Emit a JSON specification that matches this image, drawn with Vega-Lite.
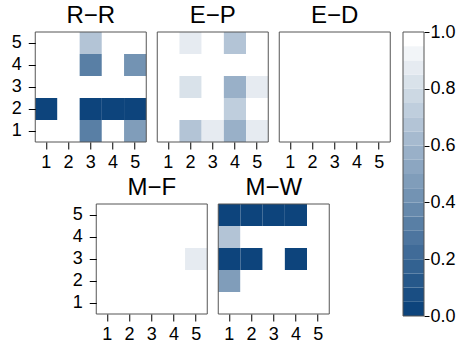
{
  "$schema": "https://vega.github.io/schema/vega-lite/v6.json",
  "padding": {"left": 11, "top": -5, "right": 2, "bottom": 2},
  "datasets": {
    "cells": [
      {"p":"R-R","c":1,"r":5,"v":1},{"p":"R-R","c":2,"r":5,"v":1},{"p":"R-R","c":3,"r":5,"v":0.67},{"p":"R-R","c":4,"r":5,"v":1},{"p":"R-R","c":5,"r":5,"v":1},
      {"p":"R-R","c":1,"r":4,"v":1},{"p":"R-R","c":2,"r":4,"v":1},{"p":"R-R","c":3,"r":4,"v":0.32},{"p":"R-R","c":4,"r":4,"v":1},{"p":"R-R","c":5,"r":4,"v":0.42},
      {"p":"R-R","c":1,"r":3,"v":1},{"p":"R-R","c":2,"r":3,"v":1},{"p":"R-R","c":3,"r":3,"v":1},{"p":"R-R","c":4,"r":3,"v":1},{"p":"R-R","c":5,"r":3,"v":1},
      {"p":"R-R","c":1,"r":2,"v":0.02},{"p":"R-R","c":2,"r":2,"v":1},{"p":"R-R","c":3,"r":2,"v":0.02},{"p":"R-R","c":4,"r":2,"v":0.02},{"p":"R-R","c":5,"r":2,"v":0.02},
      {"p":"R-R","c":1,"r":1,"v":1},{"p":"R-R","c":2,"r":1,"v":1},{"p":"R-R","c":3,"r":1,"v":0.32},{"p":"R-R","c":4,"r":1,"v":1},{"p":"R-R","c":5,"r":1,"v":0.47},
      {"p":"E-P","c":1,"r":5,"v":1},{"p":"E-P","c":2,"r":5,"v":0.87},{"p":"E-P","c":3,"r":5,"v":1},{"p":"E-P","c":4,"r":5,"v":0.67},{"p":"E-P","c":5,"r":5,"v":1},
      {"p":"E-P","c":1,"r":4,"v":1},{"p":"E-P","c":2,"r":4,"v":1},{"p":"E-P","c":3,"r":4,"v":1},{"p":"E-P","c":4,"r":4,"v":1},{"p":"E-P","c":5,"r":4,"v":1},
      {"p":"E-P","c":1,"r":3,"v":1},{"p":"E-P","c":2,"r":3,"v":0.82},{"p":"E-P","c":3,"r":3,"v":1},{"p":"E-P","c":4,"r":3,"v":0.57},{"p":"E-P","c":5,"r":3,"v":0.87},
      {"p":"E-P","c":1,"r":2,"v":1},{"p":"E-P","c":2,"r":2,"v":1},{"p":"E-P","c":3,"r":2,"v":1},{"p":"E-P","c":4,"r":2,"v":0.72},{"p":"E-P","c":5,"r":2,"v":1},
      {"p":"E-P","c":1,"r":1,"v":1},{"p":"E-P","c":2,"r":1,"v":0.65},{"p":"E-P","c":3,"r":1,"v":0.87},{"p":"E-P","c":4,"r":1,"v":0.57},{"p":"E-P","c":5,"r":1,"v":0.87},
      {"p":"E-D","c":1,"r":5,"v":1},{"p":"E-D","c":2,"r":5,"v":1},{"p":"E-D","c":3,"r":5,"v":1},{"p":"E-D","c":4,"r":5,"v":1},{"p":"E-D","c":5,"r":5,"v":1},
      {"p":"E-D","c":1,"r":4,"v":1},{"p":"E-D","c":2,"r":4,"v":1},{"p":"E-D","c":3,"r":4,"v":1},{"p":"E-D","c":4,"r":4,"v":1},{"p":"E-D","c":5,"r":4,"v":1},
      {"p":"E-D","c":1,"r":3,"v":1},{"p":"E-D","c":2,"r":3,"v":1},{"p":"E-D","c":3,"r":3,"v":1},{"p":"E-D","c":4,"r":3,"v":1},{"p":"E-D","c":5,"r":3,"v":1},
      {"p":"E-D","c":1,"r":2,"v":1},{"p":"E-D","c":2,"r":2,"v":1},{"p":"E-D","c":3,"r":2,"v":1},{"p":"E-D","c":4,"r":2,"v":1},{"p":"E-D","c":5,"r":2,"v":1},
      {"p":"E-D","c":1,"r":1,"v":1},{"p":"E-D","c":2,"r":1,"v":1},{"p":"E-D","c":3,"r":1,"v":1},{"p":"E-D","c":4,"r":1,"v":1},{"p":"E-D","c":5,"r":1,"v":1},
      {"p":"M-F","c":1,"r":5,"v":1},{"p":"M-F","c":2,"r":5,"v":1},{"p":"M-F","c":3,"r":5,"v":1},{"p":"M-F","c":4,"r":5,"v":1},{"p":"M-F","c":5,"r":5,"v":1},
      {"p":"M-F","c":1,"r":4,"v":1},{"p":"M-F","c":2,"r":4,"v":1},{"p":"M-F","c":3,"r":4,"v":1},{"p":"M-F","c":4,"r":4,"v":1},{"p":"M-F","c":5,"r":4,"v":1},
      {"p":"M-F","c":1,"r":3,"v":1},{"p":"M-F","c":2,"r":3,"v":1},{"p":"M-F","c":3,"r":3,"v":1},{"p":"M-F","c":4,"r":3,"v":1},{"p":"M-F","c":5,"r":3,"v":0.87},
      {"p":"M-F","c":1,"r":2,"v":1},{"p":"M-F","c":2,"r":2,"v":1},{"p":"M-F","c":3,"r":2,"v":1},{"p":"M-F","c":4,"r":2,"v":1},{"p":"M-F","c":5,"r":2,"v":1},
      {"p":"M-F","c":1,"r":1,"v":1},{"p":"M-F","c":2,"r":1,"v":1},{"p":"M-F","c":3,"r":1,"v":1},{"p":"M-F","c":4,"r":1,"v":1},{"p":"M-F","c":5,"r":1,"v":1},
      {"p":"M-W","c":1,"r":5,"v":0.02},{"p":"M-W","c":2,"r":5,"v":0.02},{"p":"M-W","c":3,"r":5,"v":0.02},{"p":"M-W","c":4,"r":5,"v":0.02},{"p":"M-W","c":5,"r":5,"v":1},
      {"p":"M-W","c":1,"r":4,"v":0.67},{"p":"M-W","c":2,"r":4,"v":1},{"p":"M-W","c":3,"r":4,"v":1},{"p":"M-W","c":4,"r":4,"v":1},{"p":"M-W","c":5,"r":4,"v":1},
      {"p":"M-W","c":1,"r":3,"v":0.02},{"p":"M-W","c":2,"r":3,"v":0.02},{"p":"M-W","c":3,"r":3,"v":1},{"p":"M-W","c":4,"r":3,"v":0.02},{"p":"M-W","c":5,"r":3,"v":1},
      {"p":"M-W","c":1,"r":2,"v":0.47},{"p":"M-W","c":2,"r":2,"v":1},{"p":"M-W","c":3,"r":2,"v":1},{"p":"M-W","c":4,"r":2,"v":1},{"p":"M-W","c":5,"r":2,"v":1},
      {"p":"M-W","c":1,"r":1,"v":1},{"p":"M-W","c":2,"r":1,"v":1},{"p":"M-W","c":3,"r":1,"v":1},{"p":"M-W","c":4,"r":1,"v":1},{"p":"M-W","c":5,"r":1,"v":1}
    ],
    "legend": [
      {"lo":0.00,"hi":0.05,"v":0.025},{"lo":0.05,"hi":0.10,"v":0.075},{"lo":0.10,"hi":0.15,"v":0.125},{"lo":0.15,"hi":0.20,"v":0.175},
      {"lo":0.20,"hi":0.25,"v":0.225},{"lo":0.25,"hi":0.30,"v":0.275},{"lo":0.30,"hi":0.35,"v":0.325},{"lo":0.35,"hi":0.40,"v":0.375},
      {"lo":0.40,"hi":0.45,"v":0.425},{"lo":0.45,"hi":0.50,"v":0.475},{"lo":0.50,"hi":0.55,"v":0.525},{"lo":0.55,"hi":0.60,"v":0.575},
      {"lo":0.60,"hi":0.65,"v":0.625},{"lo":0.65,"hi":0.70,"v":0.675},{"lo":0.70,"hi":0.75,"v":0.725},{"lo":0.75,"hi":0.80,"v":0.775},
      {"lo":0.80,"hi":0.85,"v":0.825},{"lo":0.85,"hi":0.90,"v":0.875},{"lo":0.90,"hi":0.95,"v":0.925},{"lo":0.95,"hi":1.00,"v":0.975}
    ],
    "frame": [{"f": 1}]
  },
  "hconcat": [
    {
      "vconcat": [
        {
          "hconcat": [
            {
              "title": "R\u2212R",
              "width": 111, "height": 110,
              "layer": [
                {
                  "data": {"name": "cells"},
                  "transform": [{"filter": "datum.p === 'R-R'"}],
                  "mark": "rect",
                  "encoding": {
                    "x": {"field": "c", "type": "ordinal", "scale": {"domain": [1,2,3,4,5], "paddingInner": 0, "paddingOuter": 0}, "axis": {"title": null, "labelPadding": 4}},
                    "y": {"field": "r", "type": "ordinal", "scale": {"domain": [5,4,3,2,1], "paddingInner": 0, "paddingOuter": 0}, "axis": {"title": null, "labelPadding": 7}},
                    "color": {"field": "v", "type": "quantitative", "legend": null, "scale": {"type": "quantize", "domain": [0,1], "nice": false, "range": ["#0D447C","#1A4E83","#26588A","#336291","#406B98","#4D759F","#597FA5","#6689AC","#7393B3","#809DBA","#8CA6C1","#99B0C8","#A6BACF","#B3C4D6","#BFCEDD","#CCD8E3","#D9E2EA","#E6EBF1","#F2F5F8","#FFFFFF"]}}
                  }
                },
                {"data": {"name": "frame"}, "mark": {"type": "rect", "fillOpacity": 0, "stroke": "#555555", "strokeWidth": 1}, "encoding": {}}
              ]
            },
            {
              "title": "E\u2212P",
              "width": 111, "height": 110,
              "layer": [
                {
                  "data": {"name": "cells"},
                  "transform": [{"filter": "datum.p === 'E-P'"}],
                  "mark": "rect",
                  "encoding": {
                    "x": {"field": "c", "type": "ordinal", "scale": {"domain": [1,2,3,4,5], "paddingInner": 0, "paddingOuter": 0}, "axis": {"title": null, "labelPadding": 4}},
                    "y": {"field": "r", "type": "ordinal", "scale": {"domain": [5,4,3,2,1], "paddingInner": 0, "paddingOuter": 0}, "axis": null},
                    "color": {"field": "v", "type": "quantitative", "legend": null, "scale": {"type": "quantize", "domain": [0,1], "nice": false, "range": ["#0D447C","#1A4E83","#26588A","#336291","#406B98","#4D759F","#597FA5","#6689AC","#7393B3","#809DBA","#8CA6C1","#99B0C8","#A6BACF","#B3C4D6","#BFCEDD","#CCD8E3","#D9E2EA","#E6EBF1","#F2F5F8","#FFFFFF"]}}
                  }
                },
                {"data": {"name": "frame"}, "mark": {"type": "rect", "fillOpacity": 0, "stroke": "#555555", "strokeWidth": 1}, "encoding": {}}
              ]
            },
            {
              "title": "E\u2212D",
              "width": 111, "height": 110,
              "layer": [
                {
                  "data": {"name": "cells"},
                  "transform": [{"filter": "datum.p === 'E-D'"}],
                  "mark": "rect",
                  "encoding": {
                    "x": {"field": "c", "type": "ordinal", "scale": {"domain": [1,2,3,4,5], "paddingInner": 0, "paddingOuter": 0}, "axis": {"title": null, "labelPadding": 4}},
                    "y": {"field": "r", "type": "ordinal", "scale": {"domain": [5,4,3,2,1], "paddingInner": 0, "paddingOuter": 0}, "axis": null},
                    "color": {"field": "v", "type": "quantitative", "legend": null, "scale": {"type": "quantize", "domain": [0,1], "nice": false, "range": ["#0D447C","#1A4E83","#26588A","#336291","#406B98","#4D759F","#597FA5","#6689AC","#7393B3","#809DBA","#8CA6C1","#99B0C8","#A6BACF","#B3C4D6","#BFCEDD","#CCD8E3","#D9E2EA","#E6EBF1","#F2F5F8","#FFFFFF"]}}
                  }
                },
                {"data": {"name": "frame"}, "mark": {"type": "rect", "fillOpacity": 0, "stroke": "#555555", "strokeWidth": 1}, "encoding": {}}
              ]
            }
          ]
        },
        {
          "hconcat": [
            {
              "title": "M\u2212F",
              "width": 111, "height": 110,
              "layer": [
                {
                  "data": {"name": "cells"},
                  "transform": [{"filter": "datum.p === 'M-F'"}],
                  "mark": "rect",
                  "encoding": {
                    "x": {"field": "c", "type": "ordinal", "scale": {"domain": [1,2,3,4,5], "paddingInner": 0, "paddingOuter": 0}, "axis": {"title": null, "labelPadding": 4}},
                    "y": {"field": "r", "type": "ordinal", "scale": {"domain": [5,4,3,2,1], "paddingInner": 0, "paddingOuter": 0}, "axis": {"title": null, "labelPadding": 7}},
                    "color": {"field": "v", "type": "quantitative", "legend": null, "scale": {"type": "quantize", "domain": [0,1], "nice": false, "range": ["#0D447C","#1A4E83","#26588A","#336291","#406B98","#4D759F","#597FA5","#6689AC","#7393B3","#809DBA","#8CA6C1","#99B0C8","#A6BACF","#B3C4D6","#BFCEDD","#CCD8E3","#D9E2EA","#E6EBF1","#F2F5F8","#FFFFFF"]}}
                  }
                },
                {"data": {"name": "frame"}, "mark": {"type": "rect", "fillOpacity": 0, "stroke": "#555555", "strokeWidth": 1}, "encoding": {}}
              ]
            },
            {
              "title": "M\u2212W",
              "width": 111, "height": 110,
              "layer": [
                {
                  "data": {"name": "cells"},
                  "transform": [{"filter": "datum.p === 'M-W'"}],
                  "mark": "rect",
                  "encoding": {
                    "x": {"field": "c", "type": "ordinal", "scale": {"domain": [1,2,3,4,5], "paddingInner": 0, "paddingOuter": 0}, "axis": {"title": null, "labelPadding": 4}},
                    "y": {"field": "r", "type": "ordinal", "scale": {"domain": [5,4,3,2,1], "paddingInner": 0, "paddingOuter": 0}, "axis": null},
                    "color": {"field": "v", "type": "quantitative", "legend": null, "scale": {"type": "quantize", "domain": [0,1], "nice": false, "range": ["#0D447C","#1A4E83","#26588A","#336291","#406B98","#4D759F","#597FA5","#6689AC","#7393B3","#809DBA","#8CA6C1","#99B0C8","#A6BACF","#B3C4D6","#BFCEDD","#CCD8E3","#D9E2EA","#E6EBF1","#F2F5F8","#FFFFFF"]}}
                  }
                },
                {"data": {"name": "frame"}, "mark": {"type": "rect", "fillOpacity": 0, "stroke": "#555555", "strokeWidth": 1}, "encoding": {}}
              ]
            }
          ]
        }
      ],
      "center": true,
      "spacing": 4
    },
    {
      "title": " ",
      "width": 21, "height": 284,
      "layer": [
        {
          "data": {"name": "legend"},
          "mark": "rect",
          "encoding": {
            "y": {"field": "lo", "type": "quantitative", "scale": {"domain": [0,1], "nice": false, "zero": false}, "axis": {"title": null, "orient": "right", "values": [0,0.2,0.4,0.6,0.8,1], "format": ".1f", "tickSize": 5, "labelPadding": 1}},
            "y2": {"field": "hi"},
            "color": {"field": "v", "type": "quantitative", "legend": null, "scale": {"type": "quantize", "domain": [0,1], "nice": false, "range": ["#0D447C","#1A4E83","#26588A","#336291","#406B98","#4D759F","#597FA5","#6689AC","#7393B3","#809DBA","#8CA6C1","#99B0C8","#A6BACF","#B3C4D6","#BFCEDD","#CCD8E3","#D9E2EA","#E6EBF1","#F2F5F8","#FFFFFF"]}}
          }
        },
        {"data": {"name": "frame"}, "mark": {"type": "rect", "fillOpacity": 0, "stroke": "#555555", "strokeWidth": 1}, "encoding": {}}
      ]
    }
  ],
  "spacing": 11,
  "config": {
    "font": "Liberation Sans",
    "view": {"stroke": null},
    "concat": {"spacing": 9},
    "axis": {"labelFontSize": 18, "labelColor": "#000000", "tickColor": "#000000", "tickSize": 7, "domain": false, "grid": false, "labelAngle": 0, "labelFont": "Liberation Sans"},
    "title": {"fontSize": 24, "fontWeight": "normal", "font": "Liberation Sans", "color": "#000000", "offset": 0}
  }
}
